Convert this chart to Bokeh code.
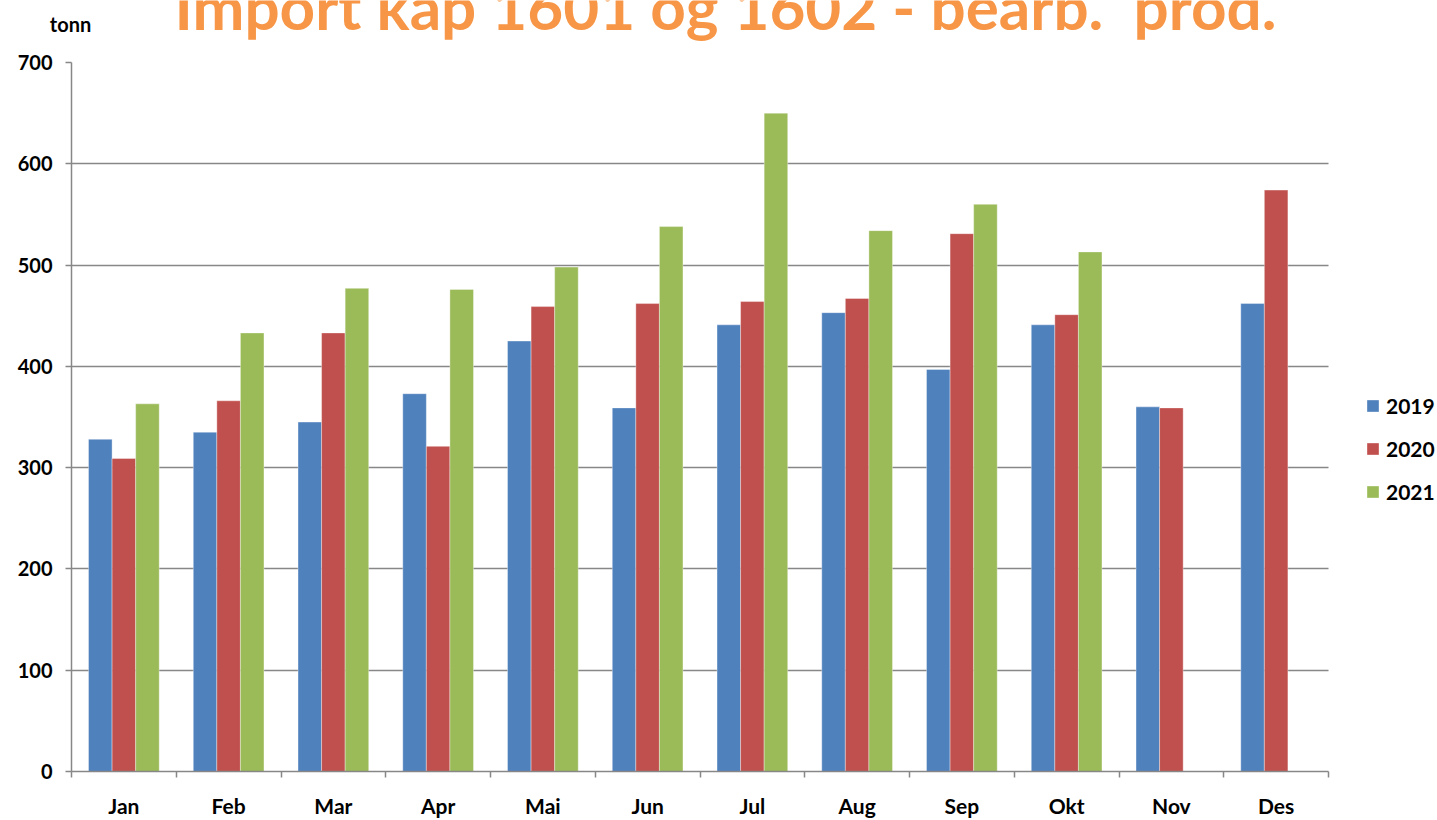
import numpy as np
from bokeh.plotting import figure
from bokeh.models import (ColumnDataSource, FixedTicker, Legend, LegendItem, Label)
from bokeh.embed import file_html
from bokeh.resources import INLINE

months = ["Jan", "Feb", "Mar", "Apr", "Mai", "Jun", "Jul", "Aug", "Sep", "Okt", "Nov", "Des"]
v2019 = [328, 335, 345, 373, 425, 359, 441, 453, 397, 441, 360, 462]
v2020 = [309, 366, 433, 321, 459, 462, 464, 467, 531, 451, 359, 574]
v2021 = [363, 433, 477, 476, 498, 538, 650, 534, 560, 513, float("nan"), float("nan")]
years = ["2019", "2020", "2021"]
colors = ["#4F81BD", "#C0504D", "#9BBB59"]
yticks = [0, 100, 200, 300, 400, 500, 600, 700]
title_text = "Import kap 1601 og 1602 - bearb.\u00a0 prod."
unit_text = "tonn"

FONT = "Lato"
GREY = "#878787"
W, H = 1437, 820

# --- top strip with (clipped) title and unit label
TOP_H = 45
top = figure(width=W, height=TOP_H, output_backend="svg", toolbar_location=None,
             x_range=(0, 1), y_range=(0, 1), x_axis_type=None, y_axis_type=None,
             min_border_left=0, min_border_right=0, min_border_top=0, min_border_bottom=0)
top.grid.visible = False
top.outline_line_color = None
top.add_layout(Label(x=725, y=40, x_units="screen", y_units="screen", text=title_text,
                     text_align="center", text_baseline="alphabetic",
                     text_font=FONT, text_font_style="bold", text_font_size="62px",
                     text_color="#F79646"))
top.add_layout(Label(x=70, y=22, x_units="screen", y_units="screen", text=unit_text,
                     text_align="center", text_baseline="alphabetic",
                     text_font=FONT, text_font_style="bold", text_font_size="20px",
                     text_color="black"))

# --- main chart (frame runs to the right edge so the legend can sit inside it)
FL, FR, FT, FB = 71, 1328, 62, 773          # plot area in page pixels
n = len(months)
x_end = n * (W - FL) / (FR - FL)
p = figure(width=W, height=H - TOP_H, output_backend="svg", toolbar_location=None,
           x_range=(0, x_end), y_range=(0, 700),
           min_border_left=FL, min_border_right=0, min_border_top=FT - TOP_H,
           min_border_bottom=H - FB)
p.outline_line_color = None

centers = np.arange(n) + 0.5
bw = 0.225
offsets = [-bw, 0.0, bw]
series = [v2019, v2020, v2021]
renderers = []
for vals, col, off in zip(series, colors, offsets):
    src = ColumnDataSource(dict(x=centers + off, top=vals))
    r = p.vbar(x="x", top="top", width=bw, bottom=0, source=src,
               fill_color=col, line_color="white", line_width=0.6, line_alpha=0.6)
    renderers.append(r)

p.xaxis.ticker = FixedTicker(ticks=list(centers), minor_ticks=list(range(n + 1)))
p.xaxis.major_label_overrides = {float(c): m for c, m in zip(centers, months)}
p.xaxis.bounds = (0, n)
p.xaxis.major_tick_line_color = None
p.xaxis.minor_tick_line_color = GREY
p.xaxis.minor_tick_line_width = 1.5
p.xaxis.minor_tick_in = 0
p.xaxis.minor_tick_out = 6
p.xaxis.major_label_standoff = 15
p.xaxis.axis_line_color = GREY
p.xaxis.axis_line_width = 1.5

p.yaxis.ticker = FixedTicker(ticks=yticks, minor_ticks=[])
p.yaxis.major_tick_in = 0
p.yaxis.major_tick_out = 6
p.yaxis.major_tick_line_color = GREY
p.yaxis.major_tick_line_width = 1.5
p.yaxis.axis_line_color = GREY
p.yaxis.axis_line_width = 1.5
p.yaxis.major_label_standoff = 13

p.xaxis.major_label_text_font_size = "21px"
p.yaxis.major_label_text_font_size = "20px"
for ax in (p.xaxis, p.yaxis):
    ax.major_label_text_font = FONT
    ax.major_label_text_font_style = "bold"
    ax.major_label_text_color = "black"

p.xgrid.grid_line_color = None
p.ygrid.ticker = FixedTicker(ticks=yticks)
if "cross_bounds" in p.ygrid[0].properties():
    p.ygrid.cross_bounds = (0, n)
    p.ygrid.grid_line_color = GREY
    p.ygrid.grid_line_width = 1.5
else:
    p.ygrid.grid_line_color = None
    p.segment(x0=0, x1=n, y0=yticks, y1=yticks, line_color=GREY, line_width=1.5, level="underlay")

legend = Legend(items=[LegendItem(label=y, renderers=[r]) for y, r in zip(years, renderers)],
                location=(1365 - FL, FB - 506), orientation="vertical",
                glyph_width=15, glyph_height=15, label_standoff=6, spacing=18,
                padding=0, margin=0, border_line_color=None, background_fill_alpha=0,
                label_text_font=FONT, label_text_font_style="bold",
                label_text_font_size="21px", label_text_color="black")
p.add_layout(legend, "center")

open("out.html", "w").write(file_html([top, p], INLINE))
